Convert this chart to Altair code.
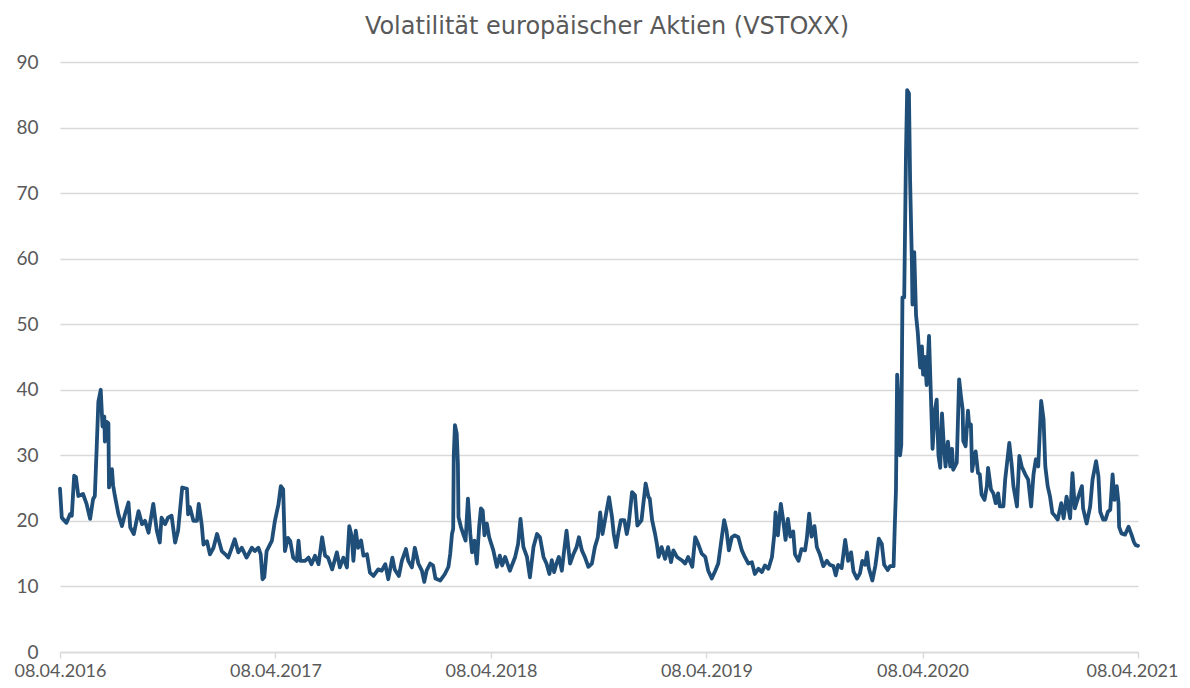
import altair as alt
import pandas as pd

START = "2016-04-08"
TITLE = "Volatilität europäischer Aktien (VSTOXX)"
TICK_DATES = ["2016-04-08", "2017-04-08", "2018-04-08", "2019-04-08", "2020-04-08", "2021-04-08"]

# calendar days after 08.04.2016 and index level
days_a = [0, 3, 11, 17, 20, 24, 27, 31, 39, 45, 51, 56, 59, 62, 65, 69, 72, 75, 76, 79,
          82, 83, 88, 90, 93, 99, 105, 110, 116, 119, 125, 133, 139, 144, 150, 158, 164, 169, 172, 178,
          183, 189, 195, 200, 207, 215, 217, 220, 226, 232, 235, 240, 243, 249, 254, 260, 266, 274, 280, 285,
          291, 296]
vstoxx_a = [24.9, 20.5, 19.7, 21.0, 20.8, 26.9, 26.7, 23.8, 24.1, 22.6, 20.3, 23.3, 23.8, 30.8, 38.2, 40.0, 34.4, 35.9, 32.1, 35.1,
            34.9, 25.1, 27.9, 25.4, 23.8, 21.0, 19.2, 21.0, 22.8, 19.0, 18.0, 21.5, 19.5, 20.0, 18.2, 22.6, 18.5, 16.7, 20.5, 19.5,
            20.5, 20.8, 16.7, 18.5, 25.1, 24.9, 21.0, 22.1, 20.0, 20.0, 22.6, 19.5, 16.4, 16.9, 14.9, 15.9, 18.0, 15.4, 14.9, 14.4,
            15.9, 17.2]

days_b = [302, 308, 316, 325, 330, 336, 340, 343, 346, 350, 359, 364, 370, 374, 378, 381, 386, 390, 395, 401,
          404, 407, 415, 421, 426, 432, 438, 444, 449, 454, 461, 469, 474, 480, 486, 490, 494, 497, 501, 505,
          510, 514, 520, 525, 531, 539, 545, 551, 556, 563, 567, 574, 579, 586, 590, 596, 601]
vstoxx_b = [15.2, 15.9, 14.4, 15.9, 15.4, 15.9, 14.9, 11.1, 11.4, 15.4, 17.0, 20.0, 22.5, 25.3, 24.8, 15.4, 17.4, 16.9, 14.4, 13.9,
            17.0, 13.9, 13.9, 14.4, 13.4, 14.7, 13.4, 17.5, 14.7, 14.4, 12.6, 15.2, 12.9, 14.4, 12.9, 19.2, 17.7, 13.9, 18.5, 15.9,
            17.0, 14.7, 14.9, 12.1, 11.6, 12.6, 12.4, 13.4, 11.1, 14.4, 12.6, 11.6, 13.9, 15.7, 13.9, 12.9, 15.9]

days_c = [607, 613, 617, 621, 627, 632, 636, 644, 652, 658, 661, 664, 666, 667, 669, 672, 674, 675, 679, 683,
          687, 691, 695, 698, 702, 706, 710, 713, 716, 719, 723, 727, 734, 740, 745, 749, 754, 762, 771, 776,
          780, 785, 791, 796, 802, 808, 813, 819, 824, 829, 833, 837, 841, 845, 850, 854, 858, 864, 870, 875,
          879, 884, 889, 895, 901, 906, 911, 915, 919]
vstoxx_c = [13.5, 12.4, 10.7, 12.4, 13.5, 13.2, 11.2, 10.9, 11.9, 13.0, 15.0, 18.0, 18.8, 30.0, 34.6, 33.3, 28.7, 20.6, 19.1, 18.0,
            17.0, 23.4, 18.0, 15.2, 17.0, 13.5, 19.1, 21.9, 21.6, 17.8, 19.6, 17.5, 15.5, 13.0, 14.7, 13.2, 14.5, 12.4, 14.5, 16.5,
            20.3, 16.0, 14.5, 11.4, 16.0, 18.0, 17.5, 14.5, 13.5, 11.9, 14.0, 12.2, 13.5, 14.5, 12.4, 15.5, 18.5, 13.5, 15.0, 16.0,
            17.5, 15.5, 14.5, 13.0, 13.5, 16.0, 17.5, 21.3, 18.0]

days_d = [926, 930, 935, 938, 942, 946, 950, 956, 960, 963, 969, 974, 978, 985, 992, 997, 999, 1003, 1008, 1011,
          1014, 1019, 1025, 1030, 1035, 1039, 1045, 1053, 1059, 1064, 1071, 1076, 1081, 1087, 1093, 1098, 1104, 1110, 1115, 1121,
          1125, 1129, 1133, 1138, 1143, 1149, 1155, 1160, 1166, 1172, 1177, 1183, 1189, 1194, 1200, 1206, 1210, 1212, 1216, 1221,
          1225]
vstoxx_d = [21.6, 23.6, 20.6, 18.0, 16.0, 18.3, 20.1, 20.1, 18.0, 19.3, 24.4, 23.9, 19.3, 20.1, 25.7, 23.6, 23.4, 20.1, 18.0, 16.5,
            14.5, 16.0, 14.2, 16.0, 13.7, 15.5, 14.5, 14.0, 13.5, 14.5, 13.0, 17.5, 16.5, 15.0, 14.5, 12.4, 11.2, 12.4, 13.5, 17.5,
            20.1, 18.5, 15.5, 17.5, 17.8, 17.5, 15.5, 14.5, 13.5, 13.7, 11.9, 12.7, 12.2, 13.2, 12.7, 14.5, 18.0, 21.3, 17.8, 22.6,
            20.1]

days_e = [1229, 1233, 1237, 1242, 1245, 1251, 1256, 1262, 1265, 1269, 1273, 1278, 1282, 1287, 1293, 1299, 1304, 1310, 1314, 1318,
          1324, 1330, 1335, 1340, 1344, 1350, 1355, 1359, 1364, 1367, 1370, 1376, 1381, 1383, 1387, 1392, 1396, 1402, 1406, 1412,
          1414, 1416, 1418, 1421, 1423, 1425, 1427, 1430, 1433, 1435, 1438, 1440, 1443, 1444, 1447, 1450, 1453, 1455, 1457, 1460,
          1462, 1465, 1468, 1472, 1475, 1478, 1482, 1485, 1488, 1491, 1494, 1497, 1500, 1504, 1508, 1511, 1513, 1519]
vstoxx_e = [17.1, 20.3, 17.6, 18.4, 14.9, 13.9, 15.7, 15.5, 17.3, 21.1, 17.6, 19.2, 16.0, 14.9, 13.1, 13.9, 13.3, 13.1, 11.7, 13.3,
            12.8, 17.1, 13.9, 15.2, 12.3, 11.2, 12.0, 13.9, 13.3, 15.2, 12.8, 10.9, 13.1, 14.4, 17.3, 16.5, 13.3, 12.5, 13.1, 13.1,
            19.2, 24.6, 42.3, 36.9, 30.0, 31.6, 54.1, 54.1, 76.1, 85.7, 85.2, 71.8, 59.4, 53.0, 61.0, 51.4, 48.7, 46.0, 43.4, 46.6,
            42.3, 45.0, 40.7, 48.2, 39.6, 31.0, 36.9, 38.5, 30.0, 28.1, 36.4, 31.6, 28.3, 32.1, 28.3, 31.0, 27.8, 28.9]

days_f = [1523, 1526, 1529, 1530, 1534, 1538, 1540, 1543, 1545, 1548, 1551, 1555, 1558, 1561, 1566, 1570, 1572, 1577, 1581, 1585,
          1589, 1592, 1598, 1601, 1608, 1612, 1615, 1621, 1625, 1629, 1635, 1640, 1645, 1649, 1653, 1657, 1662, 1666, 1669, 1673,
          1677, 1681, 1686, 1690, 1696, 1700, 1705, 1711, 1715, 1719, 1725, 1731, 1733, 1739, 1745, 1749, 1755, 1759, 1762, 1767,
          1771, 1775, 1779, 1783, 1786, 1790, 1793, 1794, 1798, 1804, 1810, 1815, 1819, 1822, 1826]
vstoxx_f = [41.6, 39.1, 37.0, 32.2, 31.4, 36.8, 34.5, 34.7, 27.6, 29.4, 30.6, 27.3, 27.1, 24.0, 23.2, 25.3, 28.1, 24.8, 24.2, 22.7,
            24.2, 22.2, 22.2, 26.3, 31.9, 28.6, 25.3, 22.2, 29.9, 28.3, 27.1, 26.3, 22.2, 27.1, 29.4, 28.3, 38.3, 35.5, 28.3, 25.3,
            23.7, 21.2, 20.7, 20.2, 22.7, 20.4, 23.7, 20.4, 27.3, 21.9, 23.7, 25.3, 21.9, 19.6, 22.2, 26.3, 29.1, 26.8, 21.4, 20.2,
            20.2, 21.4, 21.7, 27.1, 23.2, 25.3, 22.7, 19.1, 18.1, 17.9, 19.1, 17.9, 16.8, 16.3, 16.2]

segments = [(days_a, vstoxx_a), (days_b, vstoxx_b), (days_c, vstoxx_c),
            (days_d, vstoxx_d), (days_e, vstoxx_e), (days_f, vstoxx_f)]
all_days, all_vals = [], []
for d, v in segments:
    n = min(len(d), len(v))
    all_days += d[:n]
    all_vals += v[:n]

dates = (pd.Timestamp(START) + pd.to_timedelta(all_days, unit="D")).strftime("%Y-%m-%d")
df = pd.DataFrame({"Datum": list(dates), "VSTOXX": all_vals})


def dt(s):
    y, m, d = (int(p) for p in s.split("-"))
    return alt.DateTime(year=y, month=m, date=d, utc=True)


tick_values = [dt(s) for s in TICK_DATES]

TEXT = "#595959"
GRID = "#D9D9D9"
LABEL_FONT = "Lato"

chart = alt.Chart(df).mark_line(
    color="#1F4E79", strokeWidth=3.8, strokeJoin="round", strokeCap="round"
).encode(
    x=alt.X(
        "Datum:T",
        scale=alt.Scale(type="utc", domain=[tick_values[0], tick_values[-1]]),
        axis=alt.Axis(
            values=tick_values,
            labelExpr="utcFormat(datum.value, '%d.%m.%Y')",
            title=None,
            grid=False,
            domainColor=GRID,
            domainWidth=1.5,
            tickColor=GRID,
            tickWidth=1.5,
            tickSize=6,
            labelFont=LABEL_FONT,
            labelFontSize=18,
            labelColor=TEXT,
            labelBaseline="alphabetic",
            labelPadding=18,
            labelOffset={"condition": {"test": "datum.index >= 0.99", "value": -6}, "value": 0},
            labelOverlap=False,
            labelFlush=False,
        ),
    ),
    y=alt.Y(
        "VSTOXX:Q",
        scale=alt.Scale(domain=[0, 90], nice=False, zero=True),
        axis=alt.Axis(
            values=list(range(0, 100, 10)),
            title=None,
            domain=False,
            ticks=False,
            grid=True,
            gridColor=GRID,
            gridWidth=1.5,
            labelFont=LABEL_FONT,
            labelFontSize=19,
            labelColor=TEXT,
            labelPadding=22,
        ),
    ),
).properties(
    width=1078,
    height=590,
    title=alt.Title(
        TITLE,
        font="DejaVu Sans",
        fontSize=24,
        fontWeight="normal",
        color=TEXT,
        anchor="middle",
        dx=8,
        offset=14,
    ),
    autosize=alt.AutoSizeParams(type="none"),
    padding={"left": 52, "top": 54, "right": 44, "bottom": 28},
).configure_view(stroke=None)

chart.save("out.html", embed_options={"renderer": "svg", "actions": False})
